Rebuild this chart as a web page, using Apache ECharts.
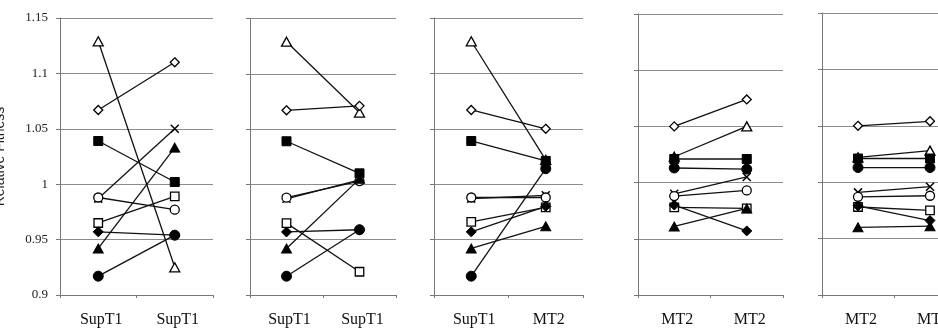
<!DOCTYPE html>
<html>
<head>
<meta charset="utf-8">
<script src="https://cdn.jsdelivr.net/npm/echarts@6/dist/echarts.min.js"></script>
<style>
html,body{margin:0;padding:0;background:#fff;overflow:hidden;width:938px;height:332px;}
#chart{width:970px;height:332px;}
</style>
</head>
<body>
<div id="chart"></div>
<script>
// Category labels for each of the five panels (two columns each)
const panelCategories = [
  ['SupT1', 'SupT1'],
  ['SupT1', 'SupT1'],
  ['SupT1', 'MT2'],
  ['MT2', 'MT2'],
  ['MT2', 'MT2']
];
const yTicks = { min: 0.9, max: 1.15, interval: 0.05 };
const yTitle = 'Relative Fitness';

// Values per marker type: [p1 left, p1 right, p2 left, p2 right, ...]
const openTriangle   = [1.129, 0.925, 1.129, 1.065, 1.129, 1.022, 1.023, 1.050, 1.022, 1.028];
const openDiamond    = [1.067, 1.110, 1.067, 1.071, 1.067, 1.050, 1.050, 1.074, 1.050, 1.054];
const filledSquare   = [1.039, 1.002, 1.039, 1.010, 1.039, 1.021, 1.021, 1.021, 1.021, 1.021];
const crossMark      = [0.987, 1.050, 0.987, 1.004, 0.987, 0.990, 0.990, 1.005, 0.991, 0.996];
const openCircle     = [0.988, 0.977, 0.988, 1.003, 0.988, 0.988, 0.988, 0.993, 0.987, 0.988];
const openSquare     = [0.965, 0.989, 0.965, 0.921, 0.966, 0.979, 0.978, 0.977, 0.978, 0.975];
const filledDiamond  = [0.957, 0.954, 0.957, 0.959, 0.957, 0.980, 0.980, 0.957, 0.979, 0.966];
const filledTriangle = [0.942, 1.033, 0.942, 1.005, 0.942, 0.962, 0.961, 0.977, 0.960, 0.961];
const filledCircle   = [0.917, 0.954, 0.917, 0.959, 0.917, 1.014, 1.013, 1.012, 1.013, 1.013];

// Layout (pixels)
const gridLayout = [
  { left: 60,  width: 153, top: 18,   bottom: 37 },
  { left: 250, width: 146, top: 18.5, bottom: 37 },
  { left: 434, width: 149, top: 18,   bottom: 37 },
  { left: 638, width: 145, top: 14,   bottom: 37 },
  { left: 822, width: 144, top: 13,   bottom: 37 }
];

const markerDefs = [
  { name: 'openTriangle',   values: openTriangle,   symbol: 'triangle', size: [10, 9], filled: false },
  { name: 'openDiamond',    values: openDiamond,    symbol: 'diamond',  size: [9, 9],  filled: false },
  { name: 'filledSquare',   values: filledSquare,   symbol: 'rect',     size: 9,       filled: true },
  { name: 'cross',          values: crossMark,      symbol: 'path://M0,0L10,10M10,0L0,10', size: 8, filled: true, cross: true },
  { name: 'openCircle',     values: openCircle,     symbol: 'circle',   size: 9,       filled: false },
  { name: 'openSquare',     values: openSquare,     symbol: 'rect',     size: 8.5,     filled: false },
  { name: 'filledDiamond',  values: filledDiamond,  symbol: 'diamond',  size: [10, 10], filled: true },
  { name: 'filledTriangle', values: filledTriangle, symbol: 'triangle', size: [10, 9], filled: true },
  { name: 'filledCircle',   values: filledCircle,   symbol: 'circle',   size: 10,      filled: true }
];

const serif = 'Liberation Serif, Times New Roman, serif';
const grids = [], xAxes = [], yAxes = [], series = [];

panelCategories.forEach(function (cats, p) {
  grids.push(Object.assign({ containLabel: false, outerBoundsMode: 'none' }, gridLayout[p]));
  xAxes.push({
    type: 'category',
    gridIndex: p,
    data: cats,
    boundaryGap: true,
    axisLine: { show: true, lineStyle: { color: '#777', width: 1 } },
    axisTick: { show: true, length: 3, lineStyle: { color: '#777' } },
    axisLabel: { show: true, margin: 17, fontFamily: serif, fontSize: 16, color: '#111', padding: [0, 0, 0, 6] },
    splitLine: { show: false }
  });
  yAxes.push({
    type: 'value',
    gridIndex: p,
    min: yTicks.min,
    max: yTicks.max,
    interval: yTicks.interval,
    name: p === 0 ? yTitle : '',
    nameLocation: 'middle',
    nameRotate: 90,
    nameGap: 53,
    nameTextStyle: { fontFamily: 'Liberation Sans, Arial, sans-serif', fontSize: 14, color: '#222' },
    axisLine: { show: true, lineStyle: { color: '#777', width: 1 } },
    axisTick: { show: true, length: 4, lineStyle: { color: '#777' } },
    axisLabel: { show: p === 0, margin: 12, fontFamily: serif, fontSize: 13, color: '#222' },
    splitLine: { show: true, lineStyle: { color: '#8c8c8c', width: 1 } }
  });
  markerDefs.forEach(function (m) {
    series.push({
      type: 'line',
      name: m.name + '_' + p,
      xAxisIndex: p,
      yAxisIndex: p,
      data: m.values.slice(2 * p, 2 * p + 2),
      symbol: m.symbol,
      symbolSize: m.size,
      showAllSymbol: true,
      animation: false,
      silent: true,
      lineStyle: { color: '#111', width: 1.3 },
      itemStyle: m.cross
        ? { color: '#000', borderColor: '#000', borderWidth: 1.5 }
        : (m.filled
          ? { color: '#000', borderColor: '#000', borderWidth: 1 }
          : { color: '#fff', borderColor: '#000', borderWidth: 1.3 }),
      emphasis: { disabled: true }
    });
  });
});

const chart = echarts.init(document.getElementById('chart'), null, { renderer: 'canvas' });
chart.setOption({
  backgroundColor: '#fff',
  animation: false,
  grid: grids,
  xAxis: xAxes,
  yAxis: yAxes,
  series: series
});
</script>
</body>
</html>
